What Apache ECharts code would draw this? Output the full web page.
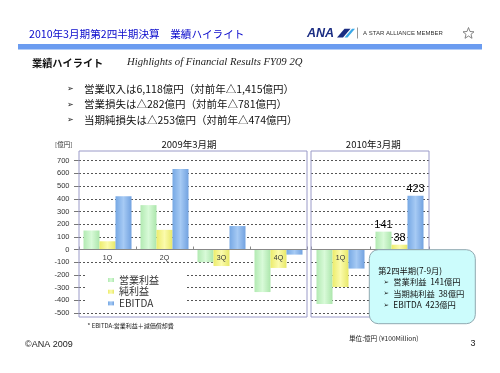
<!DOCTYPE html>
<html>
<head>
<meta charset="utf-8">
<script src="https://cdn.jsdelivr.net/npm/echarts@6/dist/echarts.min.js"></script>
<style>
html,body{margin:0;padding:0;background:#fff;}
#c{width:500px;height:373px;}
</style>
</head>
<body>
<div id="c"></div>
<script>
// ---- data ----
const categories2009 = ['1Q', '2Q', '3Q', '4Q'];
const categories2010 = ['1Q', '2Q'];
const opIncome2009 = [150, 350, -100, -335];
const netIncome2009 = [65, 155, -130, -145];
const ebitda2009 = [420, 635, 185, -40];
const opIncome2010 = [-430, 141];
const netIncome2010 = [-295, 38];
const ebitda2010 = [-150, 423];
const seriesNames = ['営業利益', '純利益', 'EBITDA'];
const yTicks = { min: -500, max: 700, interval: 100 };
const periodLabels = ['2009年3月期', '2010年3月期'];
const headerTitle = '2010年3月期第2四半期決算　業績ハイライト';
const sectionTitle = '業績ハイライト';
const sectionSubtitle = 'Highlights of Financial Results FY09 2Q';
const bulletLines = [
  '営業収入は6,118億円（対前年△1,415億円）',
  '営業損失は△282億円（対前年△781億円）',
  '当期純損失は△253億円（対前年△474億円）'
];

// ---- styles ----
const JP = '"Noto Sans CJK JP", "Noto Sans", sans-serif';
const SANS = '"Liberation Sans", Arial, sans-serif';
function grad(c1, c2, c3) {
  return new echarts.graphic.LinearGradient(0, 0, 1, 0, [
    { offset: 0, color: c1 }, { offset: 0.5, color: c2 }, { offset: 1, color: c3 }
  ]);
}
const colors = [
  grad('#b2eab2', '#d8fad8', '#acE6ac'),
  grad('#ecec6c', '#fbfbac', '#e8e868'),
  grad('#76a8e4', '#a6caf4', '#72a2e0')
];

const chart = echarts.init(document.getElementById('c'), null, { renderer: 'canvas' });

const gridTop = 160.7, gridH = 152.3;
// place the category axis on the value axis' zero
const zeroOffset = -gridH * (0 - yTicks.min) / (yTicks.max - yTicks.min);

const yAxisBase = {
  type: 'value', min: yTicks.min, max: yTicks.max, interval: yTicks.interval,
  axisLine: { show: false },
  splitLine: { show: true, lineStyle: { type: [2, 2], color: '#555', width: 1 } }
};
const xAxisBase = {
  type: 'category', z: 3, position: 'bottom', offset: zeroOffset,
  axisLine: { onZero: false, lineStyle: { color: '#888', width: 1 } },
  axisTick: { show: true, inside: true, length: 3, lineStyle: { color: '#888' } },
  axisLabel: { fontSize: 7, color: '#333', margin: 5, fontFamily: SANS }
};

function makeSeries(name, data, idx, color, withLabel) {
  return {
    name: name, type: 'bar', xAxisIndex: idx, yAxisIndex: idx,
    data: data, barWidth: 16, barGap: '0%',
    itemStyle: { color: color },
    label: withLabel ? {
      show: true, position: 'top', distance: 1, fontSize: 11, color: '#000', fontFamily: SANS,
      formatter: p => (p.dataIndex === 1 ? String(p.value) : '')
    } : { show: false }
  };
}

function txt(text, x, y, size, opts) {
  opts = opts || {};
  return {
    type: 'text', z: 10,
    style: Object.assign({
      text: text, x: x, y: y, fontSize: size, fontFamily: JP, fill: '#111',
      verticalAlign: 'middle', textAlign: 'left'
    }, opts)
  };
}

const graphics = [
  // header
  txt(headerTitle, 29, 33.5, 10.6, { fill: '#0a0acc' }),
  { type: 'rect', shape: { x: 18, y: 44, width: 464, height: 5.5 }, style: { fill: '#6b9cf0' } },
  txt('ANA', 307, 33.5, 12.5, { fontFamily: SANS, fontWeight: 'bold', fontStyle: 'italic', fill: '#1a2c82' }),
  { type: 'polygon', shape: { points: [[337, 37.5], [344.5, 28.8], [350.5, 28.8], [343, 37.5]] }, style: { fill: '#1a2c82' } },
  { type: 'polygon', shape: { points: [[344.5, 37.5], [352, 28.8], [355, 28.8], [347.5, 37.5]] }, style: { fill: '#3aa8e8' } },
  { type: 'line', shape: { x1: 357.5, y1: 27.5, x2: 357.5, y2: 38.5 }, style: { stroke: '#999', lineWidth: 1 } },
  txt('A STAR ALLIANCE MEMBER', 363, 33.5, 6, { fontFamily: SANS, fill: '#333' }),
  { type: 'polygon', shape: { points: [[468.5, 27.5], [470, 31.5], [474, 31.8], [471, 34.3], [472, 38.3], [468.5, 36], [465, 38.3], [466, 34.3], [463, 31.8], [467, 31.5]] },
    style: { fill: 'none', stroke: '#777', lineWidth: 0.9 } },
  // section title
  txt(sectionTitle, 32, 63.3, 10.2, { fontWeight: 'bold' }),
  txt(sectionSubtitle, 127, 62, 10.7, { fontFamily: '"Liberation Serif", "Times New Roman", serif', fontStyle: 'italic', fill: '#222' }),
  // bullets
  ...bulletLines.flatMap((t, i) => [
    txt('➢', 67, 89.3 + i * 15.2, 8, { fontFamily: '"DejaVu Sans", sans-serif' }),
    txt(t, 84, 89.3 + i * 15.2, 10.5)
  ]),
  // chart labels
  txt('[億円]', 55, 145, 6.5, { fill: '#333' }),
  txt(periodLabels[0], 189, 144, 9.5, { textAlign: 'center' }),
  txt(periodLabels[1], 373.3, 144, 9.5, { textAlign: 'center' }),
  // boxes
  { type: 'rect', z: 5, shape: { x: 79, y: 151, width: 228, height: 166 }, style: { fill: 'none', stroke: '#9a9ac8', lineWidth: 1 } },
  { type: 'rect', z: 5, shape: { x: 311, y: 151, width: 118, height: 166 }, style: { fill: 'none', stroke: '#9a9ac8', lineWidth: 1 } },
  // footnotes
  txt('* EBITDA:営業利益＋減価償却費', 87.5, 326, 6, { fill: '#222' }),
  txt('©ANA 2009', 25, 345, 9, { fontFamily: SANS, fill: '#222' }),
  txt('単位:億円 (¥100Million)', 349, 338.3, 6.6, { fill: '#222' }),
  txt('3', 470.5, 344, 9, { fontFamily: SANS, fill: '#222' }),
  // callout
  { type: 'rect', z: 20, shape: { x: 369.3, y: 249.7, width: 106, height: 74, r: 9 }, style: { fill: '#ccfcfc', stroke: '#8fa8b0', lineWidth: 1 } },
  Object.assign(txt('第2四半期(7-9月)', 378.3, 271.3, 8.3), { z: 21 }),
  ...[
    seriesNames[0] + '  ' + opIncome2010[1] + '億円',
    '当期純利益  ' + netIncome2010[1] + '億円',
    seriesNames[2] + '  ' + ebitda2010[1] + '億円'
  ].flatMap((t, i) => [
    Object.assign(txt('➢', 383.5, 282.3 + i * 11.5, 6.5, { fontFamily: '"DejaVu Sans", sans-serif' }), { z: 21 }),
    Object.assign(txt(t, 393.3, 282.3 + i * 11.5, 8.3), { z: 21 })
  ])
];

const option = {
  backgroundColor: '#fff',
  animation: false,
  color: colors,
  legend: {
    orient: 'vertical', left: 85, top: 268,
    data: seriesNames,
    itemWidth: 6, itemHeight: 4, itemGap: 1.7,
    backgroundColor: '#fff',
    padding: [7, 26, 1, 23],
    textStyle: { fontSize: 10, lineHeight: 10, color: '#333', fontFamily: JP },
    icon: 'rect', selectedMode: false
  },
  grid: [
    { left: 79, top: gridTop, width: 228, height: gridH },
    { left: 311, top: gridTop, width: 118, height: gridH }
  ],
  xAxis: [
    Object.assign({}, xAxisBase, { gridIndex: 0, data: categories2009 }),
    Object.assign({}, xAxisBase, { gridIndex: 1, data: categories2010 })
  ],
  yAxis: [
    Object.assign({}, yAxisBase, {
      gridIndex: 0,
      axisTick: { show: true, length: 5, lineStyle: { color: '#777' } },
      axisLabel: { fontSize: 7.5, color: '#333', margin: 9.5, fontFamily: SANS }
    }),
    Object.assign({}, yAxisBase, {
      gridIndex: 1, axisTick: { show: false }, axisLabel: { show: false }
    })
  ],
  series: [
    makeSeries(seriesNames[0], opIncome2009, 0, colors[0], false),
    makeSeries(seriesNames[1], netIncome2009, 0, colors[1], false),
    makeSeries(seriesNames[2], ebitda2009, 0, colors[2], false),
    makeSeries(seriesNames[0], opIncome2010, 1, colors[0], true),
    makeSeries(seriesNames[1], netIncome2010, 1, colors[1], true),
    makeSeries(seriesNames[2], ebitda2010, 1, colors[2], true)
  ],
  graphic: graphics
};
chart.setOption(option);
</script>
</body>
</html>
